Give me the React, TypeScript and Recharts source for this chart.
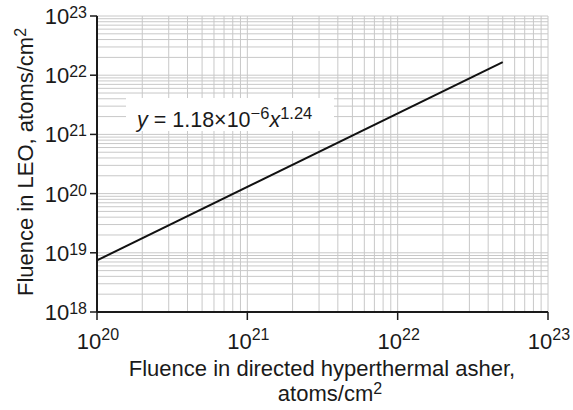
import { LineChart, Line, XAxis, YAxis, ReferenceLine } from "recharts";

// fitted line y = 1.18e-6 x^1.24, endpoints
const fitX = [1e20, 5e22];
const fitY = [7.45e18, 1.66e22];

const xTicks = [1e20, 1e21, 1e22, 1e23];
const yTicks = [1e18, 1e19, 1e20, 1e21, 1e22, 1e23];
const xDecades = [20, 21, 22];
const yDecades = [18, 19, 20, 21, 22];
const mantissas = [1, 2, 3, 4, 5, 6, 7, 8, 9];

const data = fitX.map((x, i) => ({ x, y: fitY[i] }));

const gridX = [...xDecades.flatMap((d) => mantissas.map((m) => m * 10 ** d)), 1e23];
const gridY = [...yDecades.flatMap((d) => mantissas.map((m) => m * 10 ** d)), 1e23];

const FONT = "'Liberation Sans', Arial, sans-serif";
const GRID = "#c8c8c8";

function PowTick({ x, y, payload, axis }: any) {
  const exp = Math.round(Math.log10(payload.value));
  if (axis === "x") {
    return (
      <text x={x + 1} y={y + 27} textAnchor="middle" fontSize={22} fill="#1a1a1a" fontFamily={FONT}>
        10<tspan dy={-9} fontSize={16}>{exp}</tspan>
      </text>
    );
  }
  return (
    <text x={x - 1} y={y + 8} textAnchor="end" fontSize={22} fill="#1a1a1a" fontFamily={FONT}>
      10<tspan dy={-6} fontSize={16}>{exp}</tspan>
    </text>
  );
}

export default function App() {
  return (
    <div style={{ position: "absolute", left: 0, top: 0, width: 573, height: 410, background: "#fff" }}>
      <LineChart width={573} height={410} data={data} margin={{ top: 16, right: 25, bottom: 0, left: 0 }}>
        {gridX.map((v) => (
          <ReferenceLine key={"gx" + v} x={v} stroke={GRID} strokeWidth={1} ifOverflow="visible" />
        ))}
        {gridY.map((v) => (
          <ReferenceLine key={"gy" + v} y={v} stroke={GRID} strokeWidth={1} ifOverflow="visible" />
        ))}
        <XAxis
          dataKey="x"
          type="number"
          scale="log"
          domain={[1e20, 1e23]}
          ticks={xTicks}
          interval={0}
          allowDataOverflow
          height={98}
          tickSize={8}
          axisLine={{ stroke: "#1a1a1a", strokeWidth: 2 }}
          tickLine={{ stroke: "#1a1a1a", strokeWidth: 1.5 }}
          tick={<PowTick axis="x" />}
        />
        <YAxis
          dataKey="y"
          type="number"
          scale="log"
          domain={[1e18, 1e23]}
          ticks={yTicks}
          interval={0}
          allowDataOverflow
          width={97}
          tickSize={7}
          axisLine={{ stroke: "#1a1a1a", strokeWidth: 2 }}
          tickLine={{ stroke: "#1a1a1a", strokeWidth: 1.5 }}
          tick={<PowTick axis="y" />}
        />
        <Line
          dataKey="y"
          type="linear"
          stroke="#111"
          strokeWidth={2}
          dot={false}
          isAnimationActive={false}
        />
      </LineChart>
      <svg
        width={573}
        height={410}
        style={{ position: "absolute", left: 0, top: 0, pointerEvents: "none" }}
        fontFamily={FONT}
        fill="#1a1a1a"
      >
        <rect x={126} y={98} width={208} height={33} fill="#fff" />
        <text x={137} y={127} fontSize={21.5}>
          <tspan fontStyle="italic">y</tspan> = 1.18×10
          <tspan dy={-8} fontSize={16.5}>−6</tspan>
          <tspan dy={8} fontStyle="italic">x</tspan>
          <tspan dy={-8} fontSize={16.5}>1.24</tspan>
        </text>
        <text x={322} y={376} fontSize={22} textAnchor="middle">
          Fluence in directed hyperthermal asher,
        </text>
        <text x={330} y={401} fontSize={22} textAnchor="middle">
          atoms/cm<tspan dy={-7} fontSize={16}>2</tspan>
        </text>
        <text transform="translate(33,162) rotate(-90)" fontSize={22} textAnchor="middle">
          Fluence in LEO, atoms/cm<tspan dy={-7} fontSize={16}>2</tspan>
        </text>
      </svg>
    </div>
  );
}
